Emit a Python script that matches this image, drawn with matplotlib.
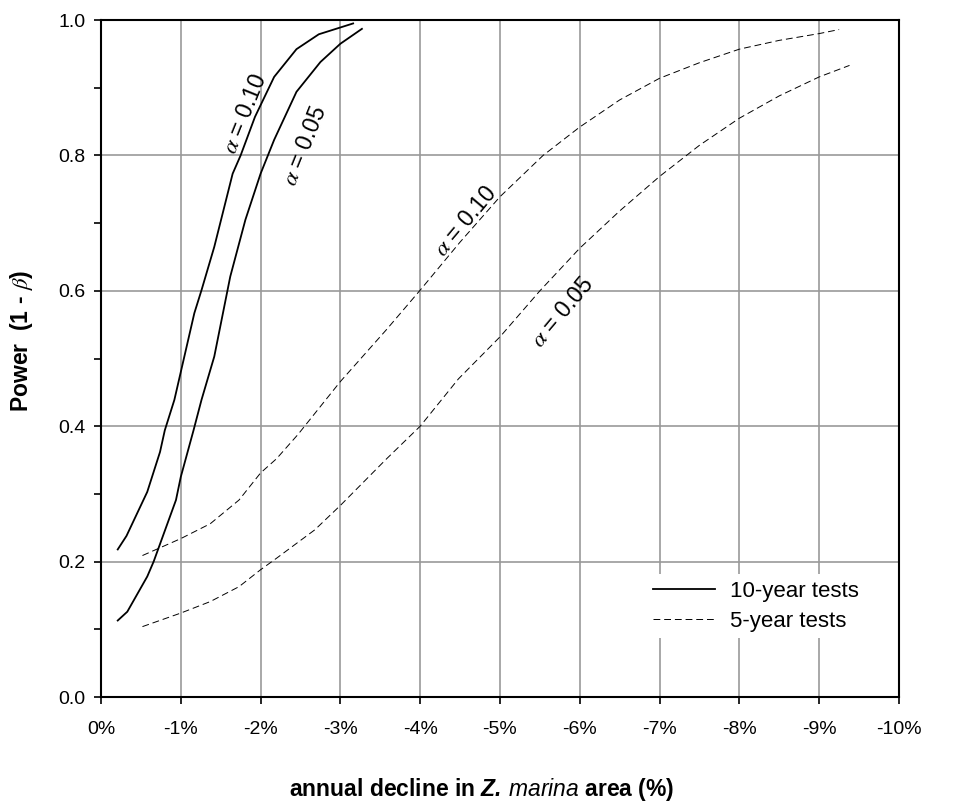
import numpy as np
import matplotlib
matplotlib.use('Agg')
import matplotlib.pyplot as plt
from matplotlib.ticker import MultipleLocator, FuncFormatter

plt.rcParams['font.family'] = ['Liberation Sans', 'DejaVu Sans']
plt.rcParams['mathtext.fontset'] = 'custom'
plt.rcParams['mathtext.rm'] = 'Liberation Sans'
plt.rcParams['mathtext.it'] = 'Liberation Sans:italic'
plt.rcParams['mathtext.bf'] = 'Liberation Sans:bold'
plt.rcParams['mathtext.bfit'] = 'Liberation Sans:italic:bold'

# annual decline (%) and power
x_10y_a10 = [-0.21, -0.32, -0.58, -0.74, -0.80, -0.92, -1.17, -1.26, -1.42, -1.65,
             -1.75, -1.93, -2.17, -2.45, -2.73, -3.16]
p_10y_a10 = [0.218, 0.238, 0.303, 0.362, 0.394, 0.439, 0.567, 0.601, 0.665, 0.773,
             0.800, 0.857, 0.916, 0.957, 0.979, 0.995]

x_10y_a05 = [-0.21, -0.33, -0.58, -0.66, -0.94, -1.00, -1.16, -1.26, -1.42, -1.62,
             -1.81, -2.00, -2.17, -2.45, -2.75, -3.00, -3.27]
p_10y_a05 = [0.113, 0.126, 0.178, 0.200, 0.291, 0.325, 0.394, 0.439, 0.503, 0.621,
             0.705, 0.773, 0.823, 0.894, 0.938, 0.965, 0.987]

x_5y_a10 = [-0.52, -1.00, -1.37, -1.73, -2.00, -2.20, -2.47, -3.00, -3.58, -4.00,
            -4.50, -5.00, -5.54, -6.00, -6.50, -7.00, -7.50, -8.00, -8.50, -9.00, -9.25]
p_5y_a10 = [0.209, 0.234, 0.256, 0.291, 0.331, 0.352, 0.388, 0.466, 0.543, 0.601,
            0.672, 0.739, 0.800, 0.842, 0.882, 0.914, 0.937, 0.957, 0.970, 0.980, 0.986]

x_5y_a05 = [-0.52, -1.00, -1.37, -1.73, -2.00, -2.20, -2.68, -3.00, -3.58, -4.00,
            -4.48, -5.00, -5.50, -6.00, -6.50, -7.00, -7.50, -8.00, -8.50, -9.00, -9.38]
p_5y_a05 = [0.104, 0.124, 0.141, 0.163, 0.188, 0.205, 0.247, 0.283, 0.352, 0.400,
            0.470, 0.532, 0.600, 0.663, 0.718, 0.769, 0.815, 0.855, 0.888, 0.916, 0.933]

fig = plt.figure(figsize=(9.68, 8.02), dpi=100)
ax = fig.add_axes([0.1043, 0.1309, 0.8244, 0.8441])

ax.plot(x_10y_a10, p_10y_a10, color='black', lw=1.3, label='10-year tests', zorder=3)
ax.plot(x_10y_a05, p_10y_a05, color='black', lw=1.3, zorder=3)
ax.plot(x_5y_a10, p_5y_a10, color='black', lw=0.7, ls=(0, (7, 4)), label='5-year tests', zorder=3)
ax.plot(x_5y_a05, p_5y_a05, color='black', lw=0.7, ls=(0, (7, 4)), zorder=3)

ax.set_xlim(0, -10)
ax.set_ylim(0, 1)
ax.xaxis.set_major_locator(MultipleLocator(1))
ax.xaxis.set_major_formatter(FuncFormatter(lambda v, p: '%d%%' % round(v)))
ax.yaxis.set_major_locator(MultipleLocator(0.2))
ax.yaxis.set_minor_locator(MultipleLocator(0.1))
ax.yaxis.set_major_formatter(FuncFormatter(lambda v, p: '%.1f' % v))

ax.grid(True, which='major', color='#999999', lw=1.2, zorder=0)
ax.set_axisbelow(True)
for s in ax.spines.values():
    s.set_linewidth(1.5)
    s.set_color('black')
ax.tick_params(axis='x', direction='out', length=5, width=1.2, labelsize=14, pad=12)
ax.tick_params(axis='y', which='both', direction='out', length=5, width=1.2, labelsize=14, pad=6)

ax.set_xlabel(r'annual decline in $\mathbfit{Z.}\,\mathit{marina}$ area (%)',
              fontsize=16.5, fontweight='bold', va='center')
ax.xaxis.set_label_coords(0.477, -0.136)
ax.set_ylabel(r'Power  (1 - $\beta$)', fontsize=16.5, fontweight='bold', va='center')
ax.yaxis.set_label_coords(-0.099, 0.526)
ax.yaxis.label.set_math_fontfamily('stix')

lab_kw = dict(fontsize=16.5, ha='center', va='center', math_fontfamily='stix', zorder=4)
ax.text(-1.80, 0.862, r'$\alpha$ = 0.10', rotation=68, **lab_kw)
ax.text(-2.56, 0.814, r'$\alpha$ = 0.05', rotation=68, **lab_kw)
ax.text(-4.57, 0.703, r'$\alpha$ = 0.10', rotation=50, **lab_kw)
ax.text(-5.78, 0.569, r'$\alpha$ = 0.05', rotation=50, **lab_kw)

leg = ax.legend(loc='center left', bbox_to_anchor=(0.6695, 0.134), fontsize=16,
                frameon=True, facecolor='white', edgecolor='none', framealpha=1,
                handlelength=2.8, handletextpad=0.65, labelspacing=0.4, borderpad=0.3)
leg.get_frame().set_boxstyle('square', pad=0)

fig.savefig('out.png', dpi=100)
